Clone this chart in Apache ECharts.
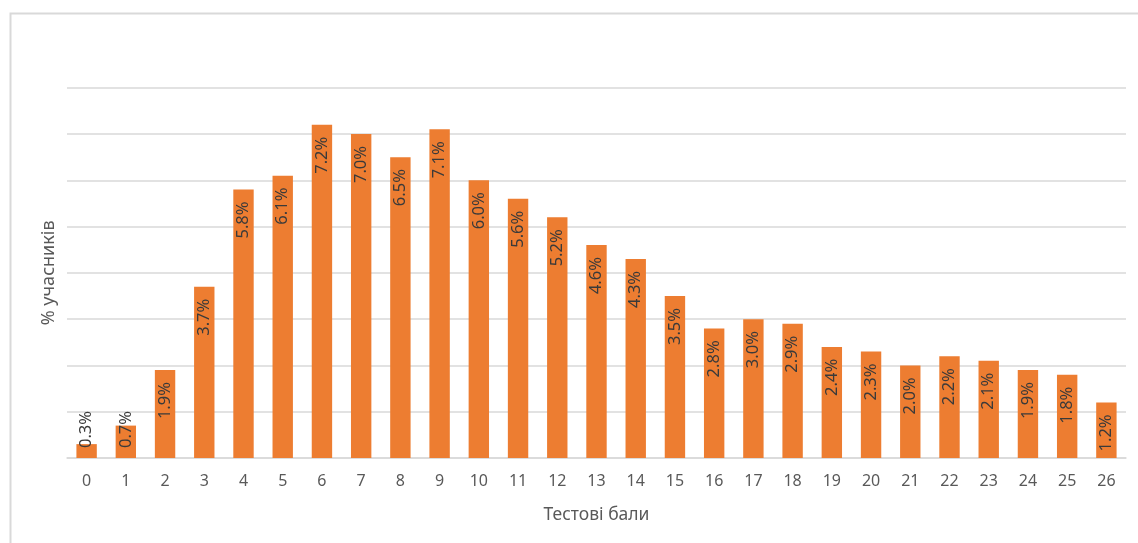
<!DOCTYPE html>
<html>
<head>
<meta charset="utf-8">
<script src="https://cdn.jsdelivr.net/npm/echarts@6/dist/echarts.min.js"></script>
<style>
html,body{margin:0;padding:0;background:#fff;}
#chart{width:1138px;height:543px;}
</style>
</head>
<body>
<div id="chart"></div>
<script>
const categories = ['0','1','2','3','4','5','6','7','8','9','10','11','12','13','14','15','16','17','18','19','20','21','22','23','24','25','26'];
const values = [0.3,0.7,1.9,3.7,5.8,6.1,7.2,7.0,6.5,7.1,6.0,5.6,5.2,4.6,4.3,3.5,2.8,3.0,2.9,2.4,2.3,2.0,2.2,2.1,1.9,1.8,1.2];
const xTitle = 'Тестові бали';
const yTitle = '% учасників';

const FONT = '"Noto Sans", sans-serif';
const smallThreshold = 1.0;

const seriesData = values.map(v => {
  if (v < smallThreshold) {
    return { value: v, label: { position: 'insideBottom', align: 'left', distance: 10 } };
  }
  return v;
});

const chart = echarts.init(document.getElementById('chart'), null, { renderer: 'canvas' });
chart.setOption({
  backgroundColor: '#ffffff',
  animation: false,
  graphic: [{
    type: 'rect',
    left: 8, top: 11,
    shape: { width: 1160, height: 560 },
    style: { fill: 'none', stroke: '#d9d9d9', lineWidth: 2 },
    silent: true
  }],
  grid: { left: 67, right: 12, top: 87.7, bottom: 85, containLabel: false },
  xAxis: {
    type: 'category',
    data: categories,
    name: xTitle,
    nameLocation: 'middle',
    nameGap: 48,
    nameTextStyle: { fontFamily: FONT, fontSize: 17.5, color: '#595959' },
    axisLine: { lineStyle: { color: '#d9d9d9', width: 1.5 } },
    axisTick: { show: false },
    axisLabel: { fontFamily: FONT, fontSize: 16, color: '#595959', margin: 15 }
  },
  yAxis: {
    type: 'value',
    min: 0, max: 8, interval: 1,
    name: yTitle,
    nameLocation: 'middle',
    nameGap: 9,
    nameTextStyle: { fontFamily: FONT, fontSize: 18, color: '#595959' },
    axisLine: { show: false },
    axisTick: { show: false },
    axisLabel: { show: false },
    splitLine: { lineStyle: { color: '#d9d9d9', width: 1.5 } }
  },
  series: [{
    type: 'bar',
    data: seriesData,
    barWidth: '52%',
    itemStyle: { color: '#ED7D31' },
    label: {
      show: true,
      position: 'insideTop',
      rotate: 90,
      align: 'right',
      verticalAlign: 'middle',
      distance: 12,
      fontFamily: FONT,
      fontSize: 16.5,
      color: '#3a3a3a',
      formatter: p => p.value.toFixed(1) + '%'
    }
  }]
});
</script>
</body>
</html>
